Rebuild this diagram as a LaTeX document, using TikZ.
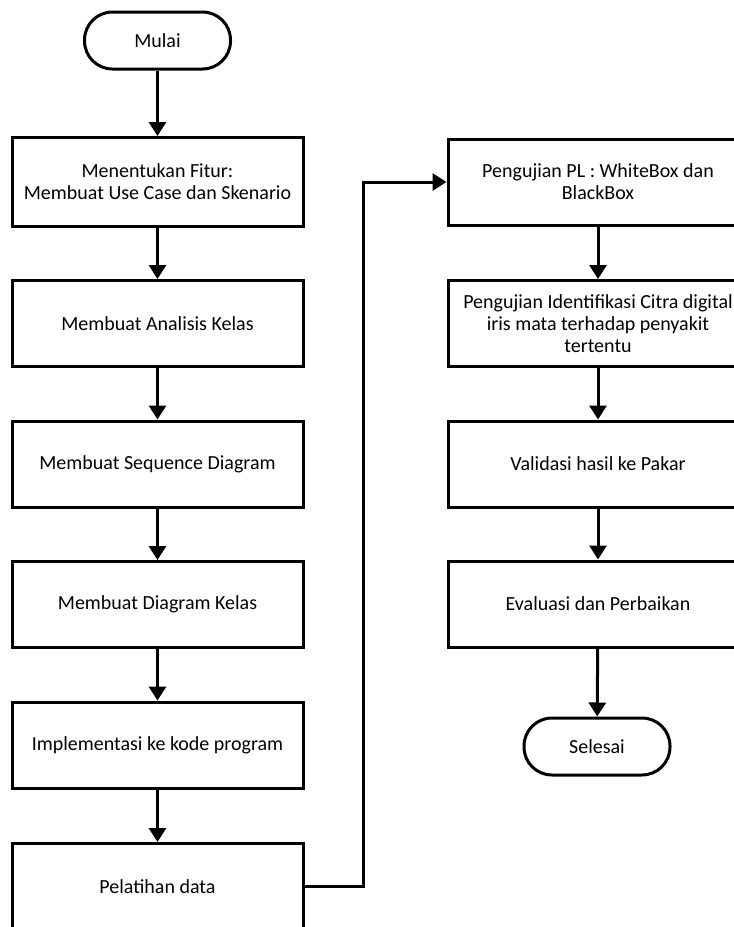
\documentclass[tikz,border=0pt]{standalone}
\usepackage{fontspec}
\setmainfont{Carlito}
\usetikzlibrary{arrows.meta,positioning}
\tikzset{
  stepbox/.style={draw=black, line width=3pt, fill=white, rectangle,
    minimum width=291pt, minimum height=86pt, inner sep=2pt,
    align=center, font=\fontsize{20}{22}\selectfont},
  widebox/.style={stepbox, minimum width=300pt},
  term/.style={draw=black, line width=3pt, fill=white, rectangle,
    rounded corners=28pt, minimum width=146pt, minimum height=57pt,
    font=\fontsize{20}{22}\selectfont},
  arr/.style={line width=3pt, -{Triangle[length=14pt,width=17pt]}},
  link/.style={line width=3pt}
}
\begin{document}
\begin{tikzpicture}[x=1pt,y=-1pt]
\useasboundingbox (0,0) rectangle (734,927);
\clip (0,0) rectangle (734,927);
% left column
\node[term] (start) at (157.5,40.5) {Mulai};
\node[stepbox, minimum height=89pt] (s1) at (157.5,182) {Menentukan Fitur:\\Membuat Use Case dan Skenario};
\node[stepbox] (s2) at (157.5,323.5) {Membuat Analisis Kelas};
\node[stepbox] (s3) at (157.5,464) {Membuat Sequence Diagram};
\node[stepbox] (s4) at (157.5,604.5) {Membuat Diagram Kelas};
\node[stepbox] (s5) at (157.5,745) {Implementasi ke kode program};
\node[stepbox] (s6) at (157.5,886.5) {Pelatihan data};
% right column
\node[widebox] (r1) at (598,182) {Pengujian PL : WhiteBox dan\\BlackBox};
\node[widebox] (r2) at (598,323.5) {Pengujian Identifikasi Citra digital\\iris mata terhadap penyakit\\tertentu};
\node[widebox] (r3) at (598,464) {Validasi hasil ke Pakar};
\node[widebox] (r4) at (598,604) {Evaluasi dan Perbaikan};
\node[term] (end) at (597,746.5) {Selesai};
% connectors
\draw[arr] (start) -- (s1);
\draw[arr] (s1) -- (s2);
\draw[arr] (s2) -- (s3);
\draw[arr] (s3) -- (s4);
\draw[arr] (s4) -- (s5);
\draw[arr] (s5) -- (s6);
\coordinate (turn) at (363,886.5);
\draw[arr] (s6.east) -- (turn) |- (r1.west);
\draw[arr] (r1) -- (r2);
\draw[arr] (r2) -- (r3);
\draw[arr] (r3) -- (r4);
\draw[arr] (r4) -- (end);
\end{tikzpicture}
\end{document}
